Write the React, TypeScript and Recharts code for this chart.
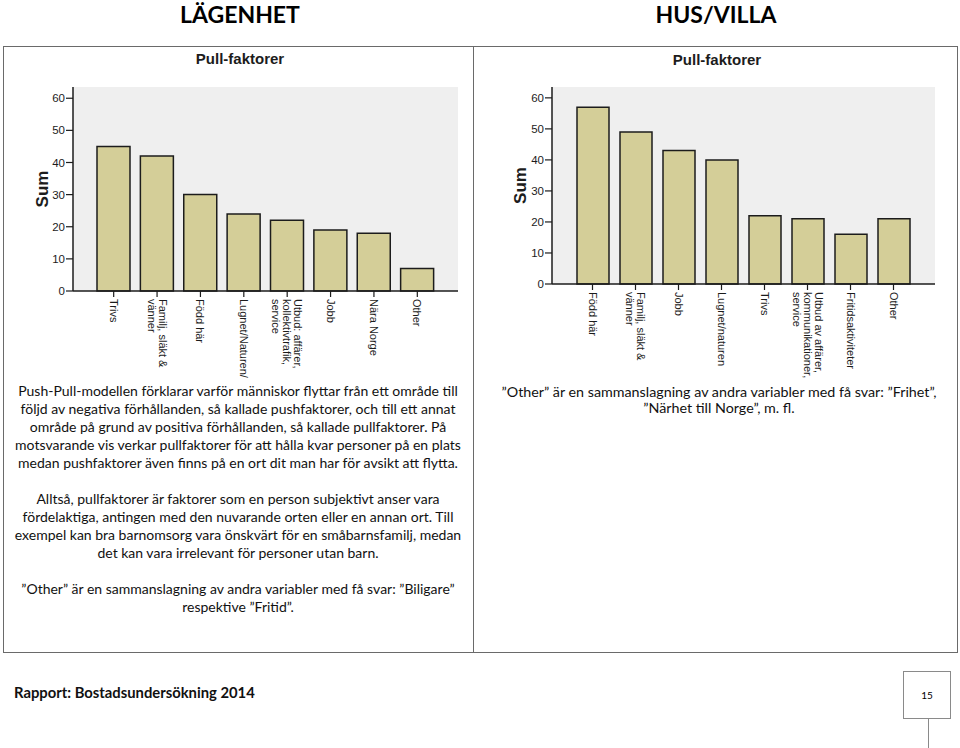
import { BarChart, Bar, XAxis, YAxis, CartesianGrid } from 'recharts'

// Lägenhet
const lgCategories = ['Trivs', 'Familj, släkt &\nvänner', 'Född här', 'Lugnet/Naturen/', 'Utbud: affärer,\nkollektivtrafik,\nservice', 'Jobb', 'Nära Norge', 'Other']
const lgValues = [45, 42, 30, 24, 22, 19, 18, 7]

// Hus/villa
const husCategories = ['Född här', 'Familj, släkt &\nvänner', 'Jobb', 'Lugnet/naturen', 'Trivs', 'Utbud av affärer,\nkommunikationer,\nservice', 'Fritidsaktiviteter', 'Other']
const husValues = [57, 49, 43, 40, 22, 21, 16, 21]

const yTicks = [0, 10, 20, 30, 40, 50, 60]

const lgText = [
  'Push-Pull-modellen förklarar varför människor flyttar från ett område till',
  'följd av negativa förhållanden, så kallade pushfaktorer, och till ett annat',
  'område på grund av positiva förhållanden, så kallade pullfaktorer. På',
  'motsvarande vis verkar pullfaktorer för att hålla kvar personer på en plats',
  'medan pushfaktorer även finns på en ort dit man har för avsikt att flytta.',
  '',
  'Alltså, pullfaktorer är faktorer som en person subjektivt anser vara',
  'fördelaktiga, antingen med den nuvarande orten eller en annan ort. Till',
  'exempel kan bra barnomsorg vara önskvärt för en småbarnsfamilj, medan',
  'det kan vara irrelevant för personer utan barn.',
  '',
  '”Other” är en sammanslagning av andra variabler med få svar: ”Biligare”',
  'respektive ”Fritid”.',
]
const husText = [
  '”Other” är en sammanslagning av andra variabler med få svar: ”Frihet”,',
  '”Närhet till Norge”, m. fl.',
]

const INK = '#1c1c1c'
const BAR_FILL = '#d4ce98'
const PLOT_BG = '#efefef'
const ARIAL = "'Liberation Sans', Arial, sans-serif"
const BODY = "Lato, 'Noto Sans', sans-serif"

function CatTick({ x, y, payload }: any) {
  const lines = String(payload.value).split('\n')
  const lh = 11
  return (
    <g transform={`translate(${x},${y}) rotate(90)`}>
      <text x={0} y={0} textAnchor="start" fontSize={11} fontFamily={ARIAL} fill={INK}>
        {lines.map((l, i) => (
          <tspan key={i} x={0} y={(i - (lines.length - 1) / 2) * lh + 4}>{l}</tspan>
        ))}
      </text>
    </g>
  )
}

function PullChart({ categories, values, width, margin, xHeight, padding, barSize, labelDx }: any) {
  const data = categories.map((name: string, i: number) => ({ name, value: values[i] }))
  return (
    <BarChart width={width} height={400} data={data} margin={margin}>
      <CartesianGrid horizontal={false} vertical={false} fill={PLOT_BG} fillOpacity={1} />
      <XAxis
        dataKey="name"
        interval={0}
        padding={padding}
        height={xHeight}
        tick={<CatTick />}
        tickSize={6}
        tickMargin={2}
        axisLine={{ stroke: INK, strokeWidth: 1.5 }}
        tickLine={{ stroke: INK, strokeWidth: 1.2 }}
      />
      <XAxis xAxisId="top" orientation="top" dataKey="name" height={0} tick={false} tickLine={false} axisLine={{ stroke: INK, strokeWidth: 1.5 }} />
      <YAxis
        domain={[0, 63.5]}
        ticks={yTicks}
        width={60}
        tickSize={7}
        tickMargin={1}
        tick={{ fontSize: 11.5, fontFamily: ARIAL, fill: INK }}
        axisLine={{ stroke: INK, strokeWidth: 1.5 }}
        tickLine={{ stroke: INK, strokeWidth: 1.2 }}
        label={{ value: 'Sum', angle: -90, position: 'center', dx: labelDx, style: { fontSize: 17, fontWeight: 'bold', fontFamily: ARIAL, fill: INK } }}
      />
      <YAxis yAxisId="right" orientation="right" width={0} domain={[0, 1]} tick={false} tickLine={false} axisLine={{ stroke: INK, strokeWidth: 1.5 }} />
      <Bar dataKey="value" fill={BAR_FILL} stroke={INK} strokeWidth={1.5} barSize={barSize} isAnimationActive={false} />
    </BarChart>
  )
}

const abs = (s: any) => ({ position: 'absolute' as const, ...s })

export default function App() {
  return (
    <div style={abs({ left: 0, top: 0, width: 960, height: 748, background: '#fff', overflow: 'hidden' })}>
      <div style={abs({ left: 3, top: 46, width: 953, height: 605, border: '1px solid #6a6a6a' })} />
      <div style={abs({ left: 473, top: 46, width: 1, height: 606, background: '#6a6a6a' })} />

      <div style={abs({ left: 0, top: 0 })}>
        <PullChart
          categories={lgCategories}
          values={lgValues}
          width={474}
          margin={{ top: 87, right: 16, bottom: 0, left: 13 }}
          xHeight={109}
          padding={{ left: 19, right: 19 }}
          barSize={33}
          labelDx={-1}
        />
      </div>
      <div style={abs({ left: 474, top: 0 })}>
        <PullChart
          categories={husCategories}
          values={husValues}
          width={486}
          margin={{ top: 87, right: 25, bottom: 0, left: 18 }}
          xHeight={116}
          padding={{ left: 19, right: 20 }}
          barSize={32}
          labelDx={-2}
        />
      </div>

      <div style={abs({ left: 0, top: 0, width: 480, textAlign: 'center', fontFamily: BODY, fontWeight: 700, fontSize: 23, lineHeight: '28px' })}>LÄGENHET</div>
      <div style={abs({ left: 476, top: 0, width: 480, textAlign: 'center', fontFamily: BODY, fontWeight: 700, fontSize: 23, lineHeight: '28px' })}>HUS/VILLA</div>
      <div style={abs({ left: 0, top: 50, width: 480, textAlign: 'center', fontFamily: ARIAL, fontWeight: 700, fontSize: 15, lineHeight: '18px', color: INK })}>Pull-faktorer</div>
      <div style={abs({ left: 477, top: 51, width: 480, textAlign: 'center', fontFamily: ARIAL, fontWeight: 700, fontSize: 15, lineHeight: '18px', color: INK })}>Pull-faktorer</div>

      <div style={abs({ left: 4, top: 382, width: 468, textAlign: 'center', fontFamily: BODY, fontSize: 14, lineHeight: '18px', color: '#111' })}>
        {lgText.map((l, i) => <div key={i} style={{ height: 18, whiteSpace: 'nowrap' }}>{l}</div>)}
      </div>
      <div style={abs({ left: 484, top: 383, width: 470, textAlign: 'center', fontFamily: BODY, fontSize: 14.3, lineHeight: '17px', color: '#111' })}>
        {husText.map((l, i) => <div key={i} style={{ height: 16, whiteSpace: 'nowrap' }}>{l}</div>)}
      </div>

      <div style={abs({ left: 14, top: 682, fontFamily: BODY, fontWeight: 700, fontSize: 14.8, lineHeight: '20px', color: '#111' })}>Rapport: Bostadsundersökning 2014</div>
      <div style={abs({ left: 903, top: 671, width: 46, height: 46, border: '1px solid #8a8a8a', display: 'flex', alignItems: 'center', justifyContent: 'center', fontFamily: BODY, fontSize: 10 })}>15</div>
      <div style={abs({ left: 928, top: 719, width: 1, height: 29, background: '#8a8a8a' })} />
    </div>
  )
}
